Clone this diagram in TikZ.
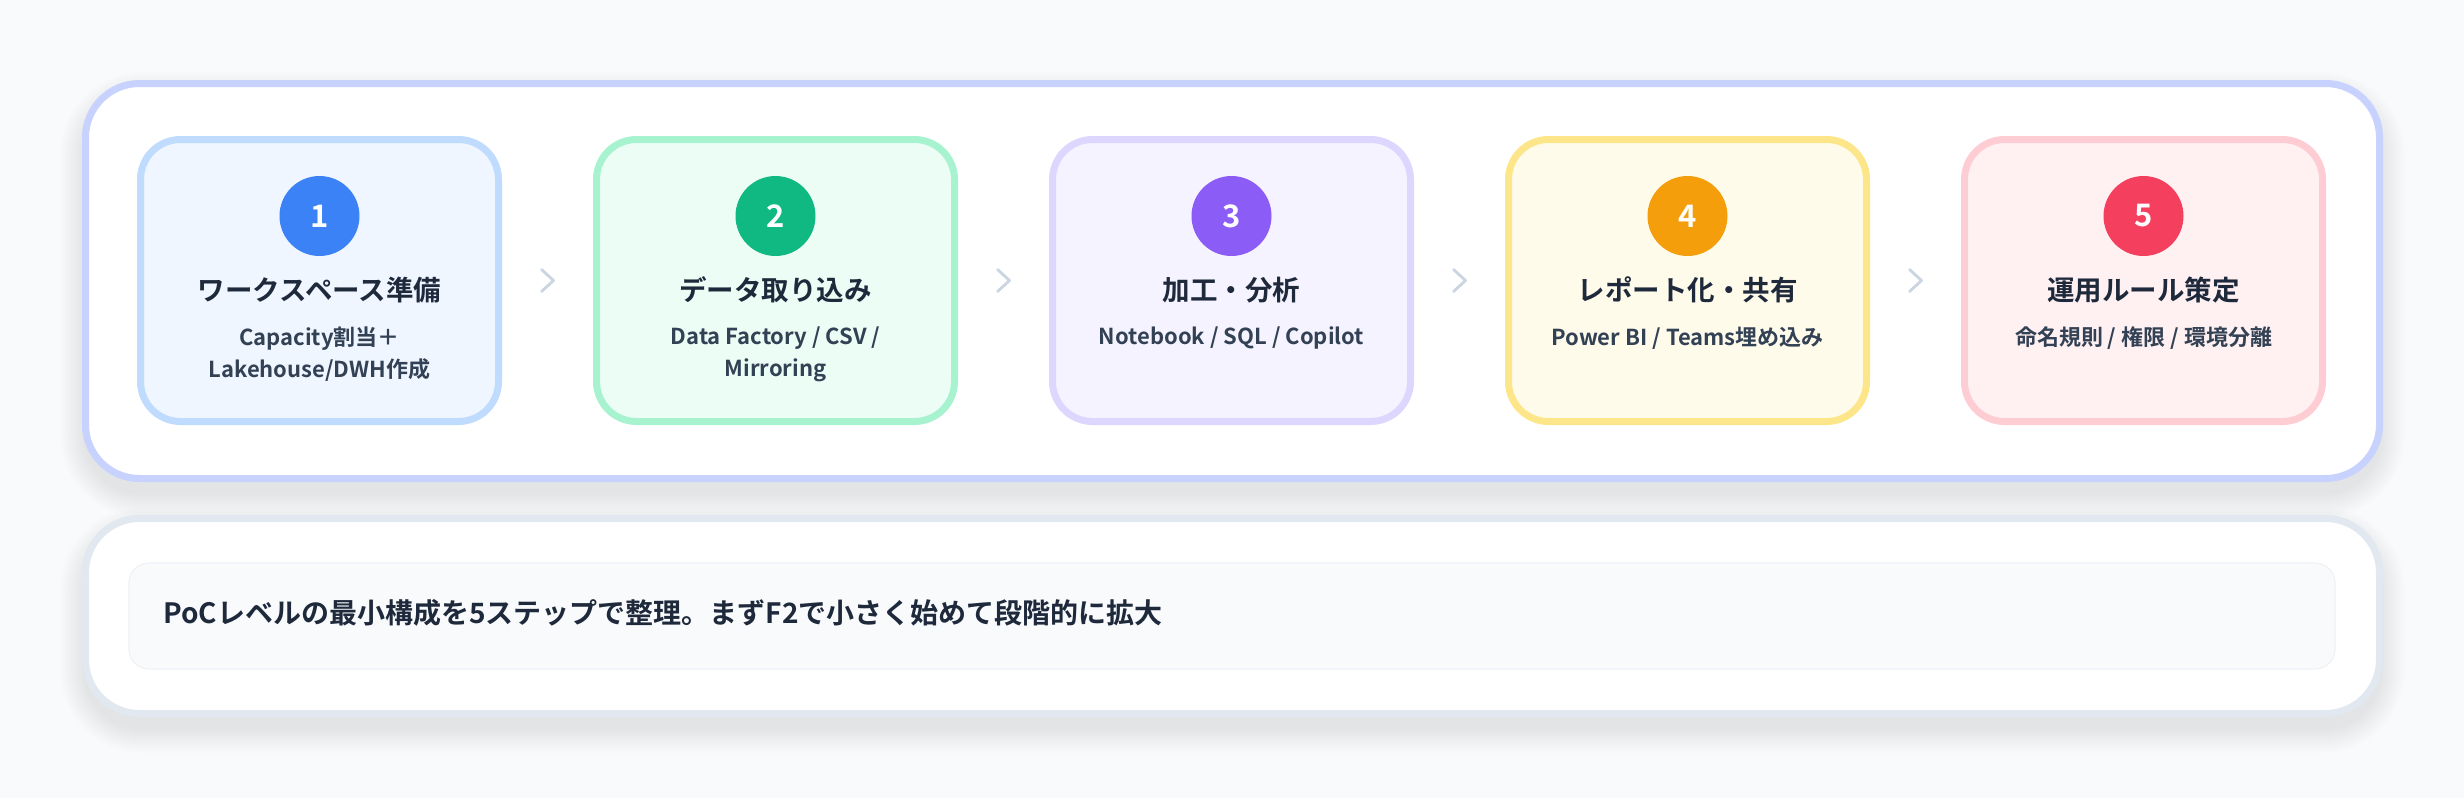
\documentclass[tikz,border=0pt]{standalone}
\usepackage{fontspec}
\setmainfont{Noto Sans CJK JP}[BoldFont={Noto Sans CJK JP Bold}]
\usetikzlibrary{calc}
\pgfdeclarelayer{back}
\pgfsetlayers{back,main}
\definecolor{bg}{HTML}{F8FAFC}
\definecolor{panelA}{HTML}{C7D2FE}
\definecolor{panelB}{HTML}{E2E8F0}
\definecolor{noteFill}{HTML}{F8FAFC}
\definecolor{noteLine}{HTML}{EEF2F6}
\definecolor{titleC}{HTML}{1E293B}
\definecolor{subC}{HTML}{334155}
\definecolor{chevC}{HTML}{CBD5E1}
\definecolor{shadeC}{HTML}{1E293B}
\definecolor{fA}{HTML}{EFF6FF}\definecolor{dA}{HTML}{BFDBFE}\definecolor{cA}{HTML}{3B82F6}
\definecolor{fB}{HTML}{ECFDF5}\definecolor{dB}{HTML}{A7F3D0}\definecolor{cB}{HTML}{10B981}
\definecolor{fC}{HTML}{F5F3FF}\definecolor{dC}{HTML}{DDD6FE}\definecolor{cC}{HTML}{8B5CF6}
\definecolor{fD}{HTML}{FFFBEB}\definecolor{dD}{HTML}{FDE68A}\definecolor{cD}{HTML}{F59E0B}
\definecolor{fE}{HTML}{FFF1F2}\definecolor{dE}{HTML}{FECDD3}\definecolor{cE}{HTML}{F43F5E}
\tikzset{
  panel/.style={rectangle, rounded corners=27pt, line width=3.5pt, fill=white,
    minimum width=1147pt, inner sep=0pt, outer sep=0pt},
  stepbox/.style={rectangle, rounded corners=20pt, line width=3.5pt,
    minimum width=179pt, minimum height=141pt, inner sep=0pt, outer sep=0pt},
  numdot/.style={circle, minimum size=40pt, inner sep=0pt, text=white,
    font=\bfseries\fontsize{15.5pt}{16pt}\selectfont},
  steptitle/.style={text=titleC, font=\bfseries\fontsize{13.75pt}{16pt}\selectfont, inner sep=0pt,
    text height=0.88em, text depth=0.12em},
  stepsub/.style={text=subC, font=\bfseries\fontsize{11pt}{16pt}\selectfont, inner sep=0pt, align=center},
  chev/.style={draw=chevC, line width=1.4pt, line cap=round, line join=round},
  shadelayer/.style={fill=shadeC, fill opacity=0.0075},
}
\begin{document}
\begin{tikzpicture}[x=0.5pt,y=-0.5pt]
\useasboundingbox (0,0) rectangle (2464,798);
% panels
\node[panel, draw=panelA, minimum height=197.5pt] (p1) at (1232.5,281) {};
\node[panel, draw=panelB, minimum height=97.5pt] (p2) at (1232.5,616) {};
\node[rectangle, rounded corners=10pt, fill=noteFill, draw=noteLine, line width=0.6pt,
      minimum width=1103pt, minimum height=53pt, inner sep=0pt] (note) at (1232,616) {};
\node[anchor=west, text=titleC, font=\bfseries\fontsize{14pt}{16pt}\selectfont, inner sep=0pt,
      text height=0.88em, text depth=0.12em] (notetext) at (163,616)
      {PoCレベルの最小構成を5ステップで整理。まずF2で小さく始めて段階的に拡大};
% step boxes
\node[stepbox, fill=fA, draw=dA] (b1) at (319.5,280.5) {};
\node[stepbox, fill=fB, draw=dB] (b2) at (775.5,280.5) {};
\node[stepbox, fill=fC, draw=dC] (b3) at (1231.5,280.5) {};
\node[stepbox, fill=fD, draw=dD] (b4) at (1687.5,280.5) {};
\node[stepbox, fill=fE, draw=dE] (b5) at (2143.5,280.5) {};
% number circles
\node[numdot, fill=cA] (n1) at (319.5,216) {1};
\node[numdot, fill=cB] (n2) at (775.5,216) {2};
\node[numdot, fill=cC] (n3) at (1231.5,216) {3};
\node[numdot, fill=cD] (n4) at (1687.5,216) {4};
\node[numdot, fill=cE] (n5) at (2143.5,216) {5};
% titles
\node[steptitle] (t1) at (319.5,293) {ワークスペース準備};
\node[steptitle] (t2) at (775.5,293) {データ取り込み};
\node[steptitle] (t3) at (1231.5,293) {加工・分析};
\node[steptitle] (t4) at (1687.5,293) {レポート化・共有};
\node[steptitle] (t5) at (2143.5,293) {運用ルール策定};
% subtitles
\node[stepsub] (s1) at (319.5,354) {Capacity割当＋\\Lakehouse/DWH作成};
\node[stepsub] (s2) at (775.5,354) {Data Factory / CSV /\\Mirroring};
\node[stepsub] (s3) at (1231.5,338) {Notebook / SQL / Copilot};
\node[stepsub] (s4) at (1687.5,338) {Power BI / Teams埋め込み};
\node[stepsub] (s5) at (2143.5,338) {命名規則 / 権限 / 環境分離};
% chevrons between steps
\foreach \a/\b in {b1/b2,b2/b3,b3/b4,b4/b5}{
  \coordinate (m-\a) at ($(\a.east)!0.5!(\b.west)$);
  \draw[chev] ($(m-\a)+(-6,-11)$) -- ($(m-\a)+(6,0)$) -- ($(m-\a)+(-6,11)$);
}
% background and soft shadows
\begin{pgfonlayer}{back}
  \fill[bg] (0,0) rectangle (2464,798);
  \foreach \k in {1,...,11}{
    \pgfmathsetmacro{\s}{\k*2.3}
    \pgfmathsetmacro{\r}{28+\k*1.2}
    \foreach \p in {p1,p2}{
      \fill[shadelayer, rounded corners=\r pt]
        ($(\p.south west)+(-\s,14+\s)$) rectangle ($(\p.north east)+(\s,14-\s)$);
    }
  }
  \foreach \n in {n1,n2,n3,n4,n5}{
    \foreach \k in {1,...,5}{
      \fill[shadeC, fill opacity=0.015] ($(\n.center)+(0,4)$) circle[radius=40+\k*1.6];
    }
  }
\end{pgfonlayer}
\end{tikzpicture}
\end{document}
